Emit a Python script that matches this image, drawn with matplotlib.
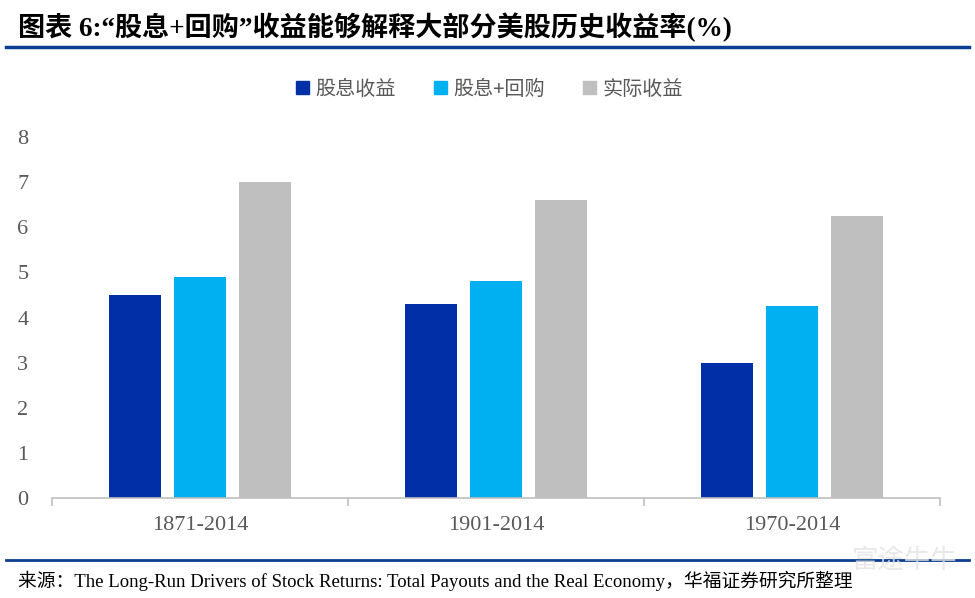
import matplotlib

matplotlib.use("Agg")

import matplotlib.pyplot as plt
import numpy as np
from matplotlib.lines import Line2D

periods = ["1871-2014", "1901-2014", "1970-2014"]
series_names = ["股息收益", "股息+回购", "实际收益"]
dividend = [4.5, 4.3, 3.0]
dividend_buyback = [4.9, 4.8, 4.25]
real_return = [7.0, 6.6, 6.25]
colors = ["#002FA7", "#00B0F0", "#BFBFBF"]

title = "图表 6:“股息+回购”收益能够解释大部分美股历史收益率(%)"
source = "来源：The Long-Run Drivers of Stock Returns: Total Payouts and the Real Economy，华福证券研究所整理"

CJK = ["Noto Sans CJK SC", "Liberation Serif", "DejaVu Sans"]
SERIF = ["Liberation Serif", "Noto Sans CJK SC"]

fig = plt.figure(figsize=(9.75, 5.98), dpi=100)
ax = fig.add_axes([0.0533, 0.1672, 0.9107, 0.6037])

x = np.arange(len(periods))
width = 0.176
step = 0.22
for i, (vals, name) in enumerate(zip([dividend, dividend_buyback, real_return], series_names)):
    ax.bar(x + (i - 1) * step, vals, width, color=colors[i], label=name)

ax.set_xlim(-0.5, len(periods) - 0.5)
ax.set_ylim(0, 8)
ax.set_yticks(range(0, 9))
for s in ["top", "right", "left"]:
    ax.spines[s].set_visible(False)
ax.spines["bottom"].set_color("#BFBFBF")
ax.spines["bottom"].set_linewidth(1.2)
ax.tick_params(axis="y", length=0, pad=17, labelsize=16, labelcolor="#595959")
ax.set_yticklabels([str(v) for v in range(0, 9)], family=SERIF)

# category labels centred, group separator ticks at the boundaries
ax.set_xticks(x)
ax.set_xticklabels(periods, family=SERIF, fontsize=16, color="#595959")
ax.tick_params(axis="x", which="major", length=0, pad=13)
ax.set_xticks(np.arange(-0.5, len(periods)), minor=True)
ax.tick_params(axis="x", which="minor", length=6, color="#BFBFBF", width=1.2, direction="out")

handles = [plt.Rectangle((0, 0), 1, 1, color=c) for c in colors]
fig.legend(handles, series_names, loc="center", bbox_to_anchor=(0.502, 0.851), ncol=3,
           frameon=False, prop={"family": CJK, "size": 14.5}, handlelength=0.65,
           handleheight=0.65, handletextpad=0.3, columnspacing=1.9, labelcolor="#595959")

fig.text(0.018, 0.955, title, family=SERIF, fontsize=19.5, fontweight="bold", va="center", color="black")
fig.add_artist(Line2D([0.006, 0.994], [0.921, 0.921], color="#0B3D91", linewidth=2.5,
                      transform=fig.transFigure))
fig.add_artist(Line2D([0.006, 0.994], [0.064, 0.064], color="#0B3D91", linewidth=2.0,
                      transform=fig.transFigure))
fig.text(0.018, 0.028, source, family=SERIF, fontsize=13.5, va="center", color="black")
fig.text(0.982, 0.062, "富途牛牛", family=CJK, fontsize=19, va="center", ha="right",
         color="#E3E3E3", alpha=0.8)

fig.savefig("out.png", dpi=100)
